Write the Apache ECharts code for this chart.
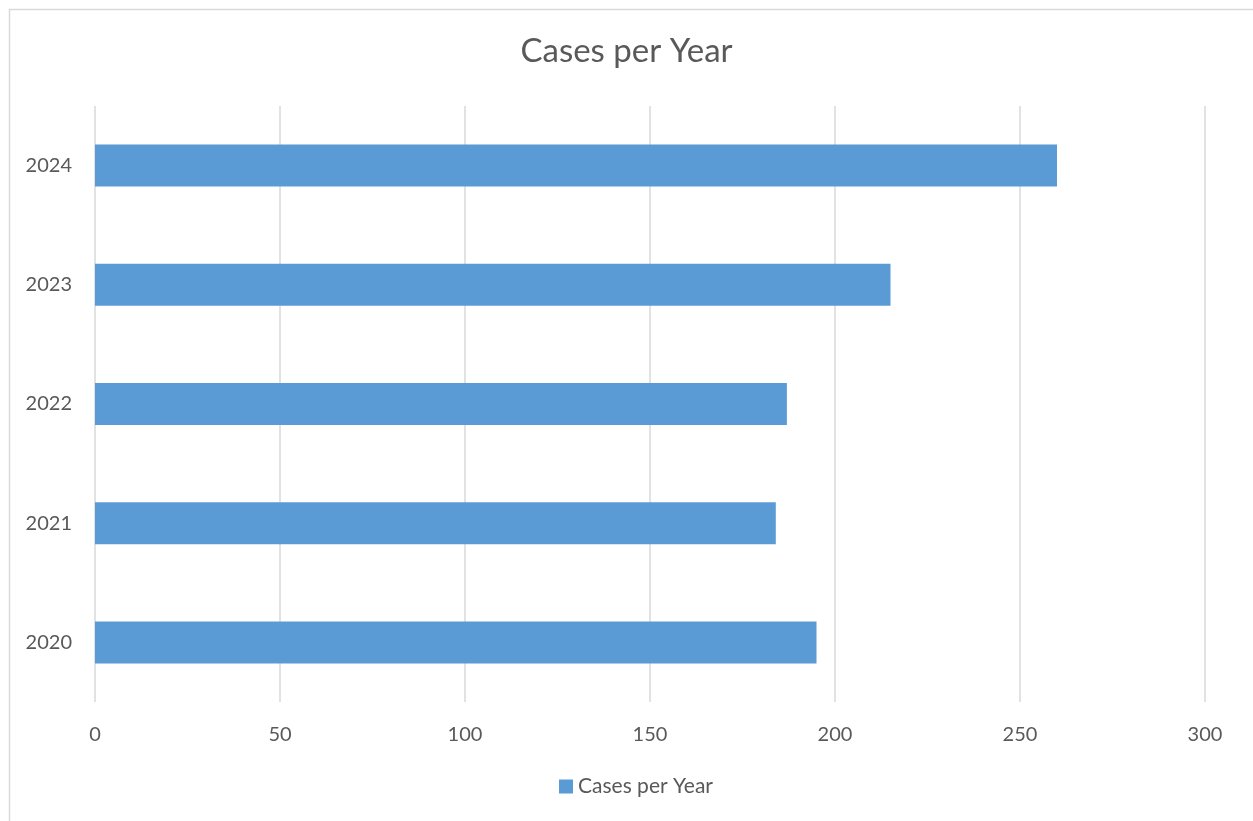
<!DOCTYPE html>
<html>
<head>
<meta charset="utf-8">
<style>
  html, body { margin: 0; padding: 0; background: #fff; }
  #chart { width: 1253px; height: 821px; }
</style>
<script src="https://cdn.jsdelivr.net/npm/echarts@6/dist/echarts.min.js"></script>
</head>
<body>
<div id="chart"></div>
<script>
  var years = ['2020', '2021', '2022', '2023', '2024'];
  var cases = [195, 184, 187, 215, 260];
  var seriesName = 'Cases per Year';

  var ink = '#595959';
  var barColor = '#5B9BD5';
  var rule = '#d9d9d9';
  var font = 'Lato, "Open Sans", sans-serif';

  var chart = echarts.init(document.getElementById('chart'), null, { renderer: 'canvas' });
  chart.setOption({
    animation: false,
    textStyle: { fontFamily: font },
    graphic: [{
      type: 'rect',
      left: 7, top: 7,
      shape: { width: 1245, height: 820 },
      style: { fill: 'none', stroke: rule, lineWidth: 1.5 },
      silent: true
    }],
    title: {
      text: 'Cases per Year',
      left: 'center',
      top: 30,
      textStyle: { color: ink, fontSize: 33, fontWeight: 'normal', fontFamily: font }
    },
    legend: {
      data: [seriesName],
      bottom: 19,
      left: 554,
      icon: 'rect',
      itemWidth: 14,
      itemHeight: 14,
      itemGap: 5,
      textStyle: { color: ink, fontSize: 21, fontFamily: font }
    },
    grid: { left: 95, right: 48, top: 106, bottom: 119 },
    xAxis: {
      type: 'value',
      min: 0,
      max: 300,
      interval: 50,
      axisLine: { show: false },
      axisTick: { show: false },
      axisLabel: { color: ink, fontSize: 20, margin: 23, fontFamily: font },
      splitLine: { lineStyle: { color: rule, width: 1.5 } }
    },
    yAxis: {
      type: 'category',
      data: years,
      axisLine: { show: false },
      axisTick: { show: false },
      axisLabel: { color: ink, fontSize: 20, margin: 23, fontFamily: font }
    },
    series: [{
      name: seriesName,
      type: 'bar',
      data: cases,
      barWidth: 42,
      itemStyle: { color: barColor }
    }]
  });
</script>
</body>
</html>
